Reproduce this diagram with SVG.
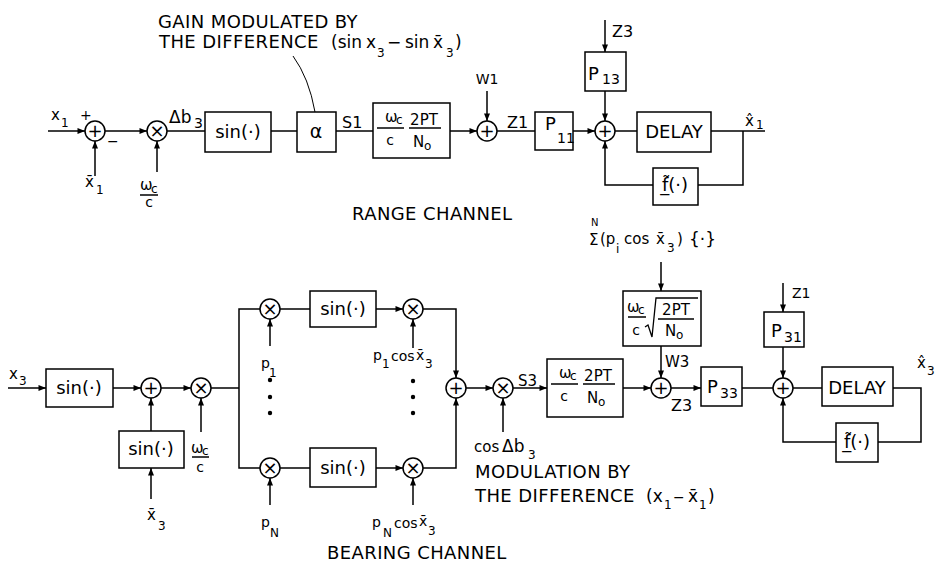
<svg xmlns="http://www.w3.org/2000/svg" width="937" height="572" viewBox="0 0 937 572">
<defs>
<marker id="ah" viewBox="0 0 10 8" refX="10" refY="4" markerWidth="9" markerHeight="6" orient="auto" markerUnits="userSpaceOnUse"><path d="M0,0 L10,4 L0,8 z" fill="#000"/></marker>
<style>
.ln{stroke:#000;stroke-width:1.5;fill:none}
.ar{stroke:#000;stroke-width:1.5;fill:none;marker-end:url(#ah)}
.bx{fill:#fff;stroke:#000;stroke-width:1.5}
.ci{fill:#fff;stroke:#000;stroke-width:1.5}
text{font-family:"DejaVu Sans","Liberation Sans",sans-serif;fill:#000}
.cap{font-size:18px;letter-spacing:0.4px}
.mt{font-size:17px}
.bt{font-size:18px}
.lb{font-size:15px}
.vr{font-size:14px}
.sm{font-size:14px}
.sb{font-size:12px}
.sy{font-size:18px}
</style>
</defs>

<g id="annot-top">
<text class="cap" x="158" y="28">GAIN MODULATED BY</text>
<text class="cap" x="159" y="48">THE DIFFERENCE</text>
<text class="mt" x="331" y="48">(sin</text>
<text class="mt" x="366" y="48">x</text>
<text class="sb" x="377" y="57">3</text>
<text class="mt" x="387" y="48">−</text>
<text class="mt" x="405" y="48">sin</text>
<text class="mt" x="433" y="48">x̄</text>
<text class="sb" x="446" y="57">3</text>
<text class="mt" x="455" y="48">)</text>
</g>
<text class="cap" x="352" y="220">RANGE CHANNEL</text>

<g id="connectors">
<path class="ar" d="M48,131 H85"/>
<path class="ar" d="M95,176 V141"/>
<path class="ar" d="M105,131 H147"/>
<path class="ar" d="M157,172 V141"/>
<path class="ln" d="M167,131 H205"/>
<path class="ln" d="M271,131 H297"/>
<path class="ln" d="M336,131 H373"/>
<path class="ar" d="M450,131 H477"/>
<path class="ar" d="M487,91 V121"/>
<path class="ln" d="M497,131 H535"/>
<path class="ar" d="M573,131 H595"/>
<path class="ar" d="M605,20 V52"/>
<path class="ar" d="M605,91 V121"/>
<path class="ln" d="M615,131 H637"/>
<path class="ln" d="M711,131 H765"/>
<path class="ln" d="M743,131 V185 H698"/>
<path class="ar" d="M653,185 H605 V141"/>
<path class="ln" style="stroke-width:1" d="M293,56 Q309,78 315,112"/>

<path class="ar" d="M8,388 H46"/>
<path class="ar" d="M113,388 H141"/>
<path class="ar" d="M151,431 V398"/>
<path class="ar" d="M151,499 V468"/>
<path class="ar" d="M161,388 H191"/>
<path class="ar" d="M201,432 V398"/>
<path class="ln" d="M211,388 H239"/>
<path class="ln" d="M260,309 H239 V468 H260"/>
<path class="ar" d="M270,346 V319"/>
<path class="ar" d="M270,505 V478"/>
<path class="ln" d="M280,309 H310"/>
<path class="ln" d="M280,468 H310"/>
<path class="ar" d="M376,309 H403"/>
<path class="ar" d="M376,468 H403"/>
<path class="ar" d="M413,348 V319"/>
<path class="ar" d="M413,505 V478"/>
<path class="ar" d="M423,309 H456 V378"/>
<path class="ar" d="M423,468 H456 V398"/>
<path class="ar" d="M466,388 H493"/>
<path class="ar" d="M503,432 V398"/>
<path class="ar" d="M513,388 H547"/>
<path class="ar" d="M623,388 H651"/>
<path class="ar" d="M661,262 V291"/>
<path class="ar" d="M661,346 V378"/>
<path class="ar" d="M671,388 H701"/>
<path class="ln" d="M742,388 H773"/>
<path class="ar" d="M783,283 V312"/>
<path class="ar" d="M783,347 V378"/>
<path class="ln" d="M793,388 H822"/>
<path class="ln" d="M893,388 H921 V442 H878"/>
<path class="ar" d="M836,442 H783 V398"/>
</g>

<!-- top row nodes -->
<g id="in-x1"><text class="lb" x="51" y="120">x</text><text class="sb" x="61" y="127">1</text><text class="sm" x="80" y="120">+</text></g>
<g id="sum1"><circle class="ci" cx="95" cy="131" r="10"/><text class="sy" x="95" y="137" text-anchor="middle">+</text><text class="sm" x="107" y="146">−</text></g>
<g id="in-x1bar"><text class="lb" x="85" y="187">x̄</text><text class="sb" x="96" y="194">1</text></g>
<g id="mult1"><circle class="ci" cx="157" cy="131" r="10"/><text class="sy" x="157" y="137" text-anchor="middle">×</text></g>
<g id="in-wc1"><text class="lb" x="140" y="190">ω</text><text class="sb" x="151" y="193">c</text><line class="ln" x1="140" y1="195" x2="158" y2="195"/><text class="sm" x="149" y="207" text-anchor="middle">c</text></g>
<text x="169" y="123" style="font-size:17px">Δb</text><text class="sm" x="194" y="128">3</text>
<g id="sin1"><rect class="bx" x="205" y="112" width="66" height="40"/><text class="bt" x="238" y="138" text-anchor="middle">sin(·)</text></g>
<g id="alpha"><rect class="bx" x="297" y="112" width="39" height="40"/><text class="bt" x="316" y="138" text-anchor="middle" style="font-size:19px">α</text></g>
<text x="342" y="128" style="font-size:16px">S1</text>
<g id="gain1"><rect class="bx" x="373" y="103" width="77" height="55"/>
<text class="lb" x="385" y="122">ω</text><text class="sb" x="396" y="124">c</text>
<line class="ln" x1="377" y1="128" x2="404" y2="128"/>
<text class="sm" x="390" y="145" text-anchor="middle">c</text>
<text class="lb" x="424" y="125" text-anchor="middle">2PT</text>
<line class="ln" x1="409" y1="128" x2="441" y2="128"/>
<text class="lb" x="413" y="147">N</text><text class="sb" x="424" y="150">o</text></g>
<g id="sumW1"><circle class="ci" cx="487" cy="131" r="10"/><text class="sy" x="487" y="137" text-anchor="middle">+</text></g>
<text class="sm" x="487" y="84" text-anchor="middle">W1</text>
<text x="507" y="128" style="font-size:16px">Z1</text>
<g id="P11"><rect class="bx" x="535" y="112" width="38" height="38"/><text x="545" y="130" style="font-size:18px">P</text><text class="sm" x="557" y="143">11</text></g>
<g id="P13"><rect class="bx" x="585" y="52" width="41" height="39"/><text x="588" y="80" style="font-size:18px">P</text><text class="sm" x="602" y="84">13</text></g>
<text x="612" y="37" style="font-size:16px">Z3</text>
<g id="sum2"><circle class="ci" cx="605" cy="131" r="10"/><text class="sy" x="605" y="137" text-anchor="middle">+</text></g>
<g id="delay1"><rect class="bx" x="637" y="112" width="74" height="40"/><text class="bt" x="674" y="138" text-anchor="middle">DELAY</text></g>
<g id="out-x1"><text class="lb" x="745" y="126">x̂</text><text class="sb" x="756" y="129">1</text></g>
<g id="f1"><rect class="bx" x="653" y="168" width="45" height="37"/><text class="bt" x="675" y="191" text-anchor="middle">f̲̃(·)</text></g>

<!-- bottom row nodes -->
<g id="in-x3"><text class="lb" x="9" y="379">x</text><text class="sb" x="19" y="385">3</text></g>
<g id="sin2"><rect class="bx" x="46" y="369" width="67" height="38"/><text class="bt" x="79" y="394" text-anchor="middle">sin(·)</text></g>
<g id="sum3"><circle class="ci" cx="151" cy="388" r="10"/><text class="sy" x="151" y="394" text-anchor="middle">+</text></g>
<g id="sin3"><rect class="bx" x="119" y="431" width="65" height="37"/><text class="bt" x="151" y="455" text-anchor="middle">sin(·)</text></g>
<g id="in-x3bar"><text class="lb" x="147" y="520">x̄</text><text class="sb" x="158" y="530">3</text></g>
<g id="mult2"><circle class="ci" cx="201" cy="388" r="10"/><text class="sy" x="201" y="394" text-anchor="middle">×</text></g>
<g id="in-wc2"><text class="lb" x="191" y="453">ω</text><text class="sb" x="202" y="455">c</text><line class="ln" x1="192" y1="457" x2="209" y2="457"/><text class="sm" x="200" y="472" text-anchor="middle">c</text></g>
<g id="mult-p1"><circle class="ci" cx="270" cy="309" r="10"/><text class="sy" x="270" y="315" text-anchor="middle">×</text></g>
<g id="mult-pN"><circle class="ci" cx="270" cy="468" r="10"/><text class="sy" x="270" y="474" text-anchor="middle">×</text></g>
<g id="in-p1"><text class="vr" x="261" y="368">p</text><text class="sb" x="269" y="377">1</text></g>
<g id="in-pN"><text class="vr" x="261" y="527">p</text><text class="sb" x="270" y="537">N</text></g>
<g id="dots"><circle cx="270" cy="380" r="2.2"/><circle cx="270" cy="397" r="2.2"/><circle cx="270" cy="413" r="2.2"/><circle cx="413" cy="381" r="2.2"/><circle cx="413" cy="397" r="2.2"/><circle cx="413" cy="413" r="2.2"/></g>
<g id="sin-p1"><rect class="bx" x="310" y="291" width="66" height="36"/><text class="bt" x="343" y="315" text-anchor="middle">sin(·)</text></g>
<g id="sin-pN"><rect class="bx" x="310" y="448" width="66" height="39"/><text class="bt" x="343" y="474" text-anchor="middle">sin(·)</text></g>
<g id="mult-c1"><circle class="ci" cx="413" cy="309" r="10"/><text class="sy" x="413" y="315" text-anchor="middle">×</text></g>
<g id="mult-cN"><circle class="ci" cx="413" cy="468" r="10"/><text class="sy" x="413" y="474" text-anchor="middle">×</text></g>
<g id="in-p1cos"><text class="vr" x="373" y="360">p</text><text class="sb" x="382" y="368">1</text><text class="vr" x="391" y="361">cos</text><text class="vr" x="416" y="360">x̄</text><text class="sb" x="425" y="368">3</text></g>
<g id="in-pNcos"><text class="vr" x="372" y="527">p</text><text class="sb" x="383" y="537">N</text><text class="vr" x="394" y="528">cos</text><text class="vr" x="419" y="526">x̄</text><text class="sb" x="428" y="535">3</text></g>
<g id="sum4"><circle class="ci" cx="456" cy="388" r="10"/><text class="sy" x="456" y="394" text-anchor="middle">+</text></g>
<g id="mult3"><circle class="ci" cx="503" cy="388" r="10"/><text class="sy" x="503" y="394" text-anchor="middle">×</text></g>
<g id="in-cos"><text class="lb" x="474" y="452">cos</text><text x="502" y="452" style="font-size:17px">Δb</text><text class="sb" x="528" y="459">3</text></g>
<text class="lb" x="518" y="386">S3</text>
<g id="gain3"><rect class="bx" x="547" y="359" width="76" height="58"/>
<text class="lb" x="559" y="378">ω</text><text class="sb" x="570" y="380">c</text>
<line class="ln" x1="551" y1="384" x2="578" y2="384"/>
<text class="sm" x="564" y="401" text-anchor="middle">c</text>
<text class="lb" x="598" y="381" text-anchor="middle">2PT</text>
<line class="ln" x1="583" y1="384" x2="615" y2="384"/>
<text class="lb" x="587" y="403">N</text><text class="sb" x="598" y="406">o</text></g>
<g id="in-sigma"><text x="591" y="226" style="font-size:10px">N</text><text x="589" y="245" style="font-size:15px">Σ</text><text class="lb" x="600" y="244">(p</text><text class="sb" x="616" y="253">i</text><text class="lb" x="624" y="244">cos</text><text class="lb" x="656" y="244">x̄</text><text class="sb" x="667" y="252">3</text><text class="lb" x="677" y="244">)</text><text x="689" y="245" style="font-size:17px">{·}</text></g>
<g id="gainW3"><rect class="bx" x="623" y="291" width="78" height="55"/>
<text class="lb" x="627" y="312">ω</text><text class="sb" x="638" y="314">c</text>
<line class="ln" x1="628" y1="317" x2="646" y2="317"/>
<text class="sm" x="636" y="335" text-anchor="middle">c</text>
<path class="ln" style="stroke-width:1.3" d="M645,327 L648,325 L652,337 L656,298 H698"/>
<text class="lb" x="676" y="315" text-anchor="middle">2PT</text>
<line class="ln" x1="658" y1="319" x2="694" y2="319"/>
<text class="lb" x="665" y="336">N</text><text class="sb" x="676" y="339">o</text></g>
<text class="lb" x="665" y="367">W3</text>
<g id="sum5"><circle class="ci" cx="661" cy="388" r="10"/><text class="sy" x="661" y="394" text-anchor="middle">+</text></g>
<text x="671" y="411" style="font-size:16px">Z3</text>
<g id="P33"><rect class="bx" x="701" y="367" width="41" height="39"/><text x="707" y="393" style="font-size:18px">P</text><text class="sm" x="720" y="398">33</text></g>
<g id="P31"><rect class="bx" x="764" y="312" width="40" height="35"/><text x="771" y="337" style="font-size:18px">P</text><text class="sm" x="784" y="342">31</text></g>
<text class="sm" x="792" y="298">Z1</text>
<g id="sum6"><circle class="ci" cx="783" cy="388" r="10"/><text class="sy" x="783" y="394" text-anchor="middle">+</text></g>
<g id="delay3"><rect class="bx" x="822" y="367" width="71" height="39"/><text class="bt" x="857" y="394" text-anchor="middle">DELAY</text></g>
<g id="f3"><rect class="bx" x="836" y="423" width="42" height="39"/><text class="bt" x="857" y="448" text-anchor="middle">f̲̃(·)</text></g>
<g id="out-x3"><text class="lb" x="917" y="368">x̂</text><text class="sb" x="927" y="375">3</text></g>

<g id="annot-bottom">
<text class="cap" x="475" y="478">MODULATION BY</text>
<text class="cap" x="475" y="502">THE DIFFERENCE</text>
<text class="mt" x="646" y="502">(x</text>
<text class="sb" x="664" y="509">1</text>
<text class="mt" x="673" y="502" style="font-size:14px">−</text>
<text class="mt" x="688" y="502">x̄</text>
<text class="sb" x="699" y="509">1</text>
<text class="mt" x="708" y="502">)</text>
</g>
<text class="cap" x="327" y="559">BEARING CHANNEL</text>
</svg>
